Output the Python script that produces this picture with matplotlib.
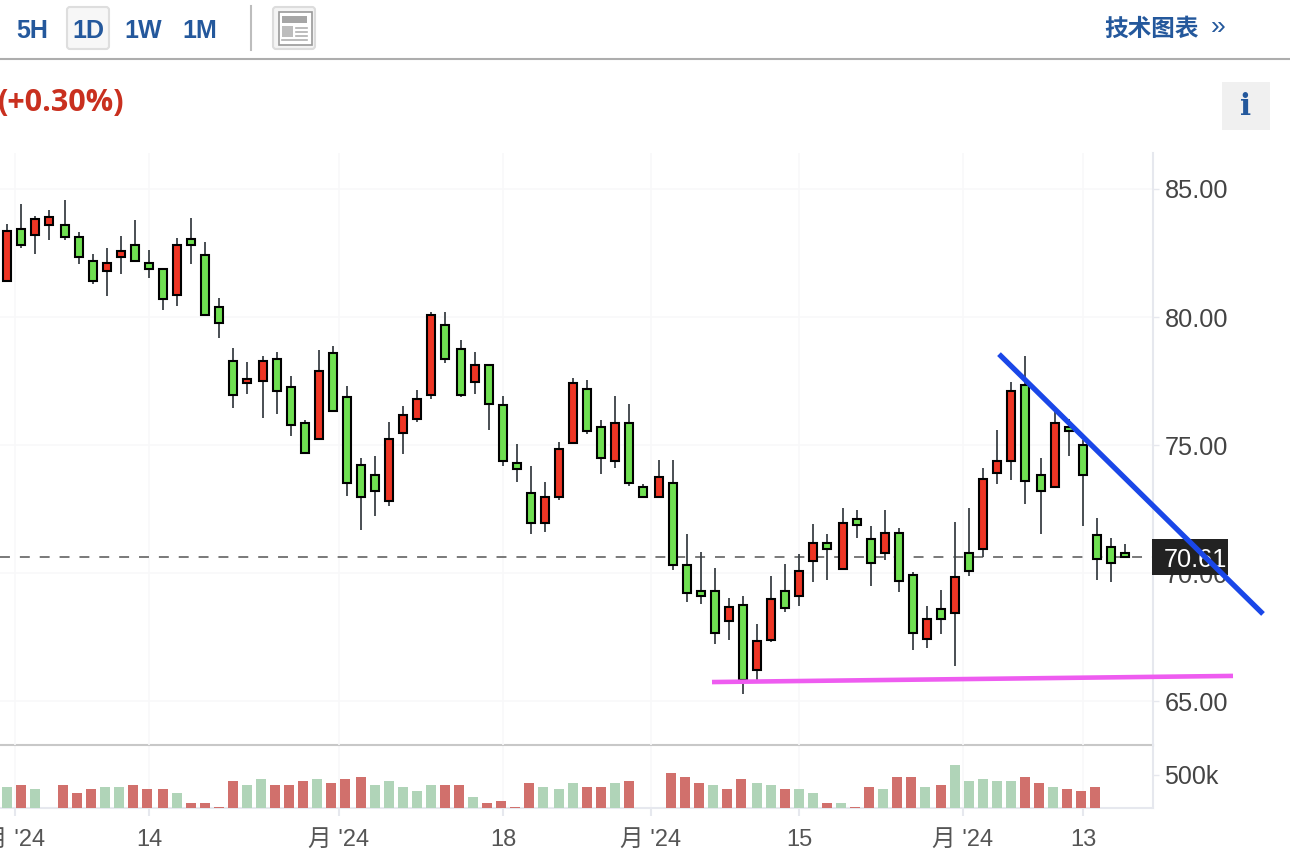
import numpy as np
import matplotlib
matplotlib.use('Agg')
import matplotlib.pyplot as plt
from matplotlib.patches import Rectangle, FancyBboxPatch

plt.rcParams['font.family'] = ['Liberation Sans', 'Noto Sans CJK SC', 'DejaVu Sans']

# ---------------- data ----------------
open_px = [81.39, 83.45, 83.19, 83.58, 83.61, 83.14, 82.20, 81.78, 82.33, 82.82, 82.12, 81.89, 80.85, 83.06, 82.43,
           80.40, 78.29, 77.41, 77.49, 78.37, 77.28, 75.87, 75.22, 78.61, 76.89, 74.23, 73.84, 72.80, 75.45, 76.00,
           76.94, 79.70, 78.76, 77.48, 78.13, 76.57, 74.31, 73.13, 71.94, 72.95, 75.06, 77.20, 75.71, 74.36, 75.87,
           73.37, 72.95, 73.52, 70.32, 69.31, 69.31, 68.11, 68.76, 66.23, 67.40, 69.31, 69.12, 70.45, 71.18, 70.14,
           72.12, 71.34, 70.77, 71.57, 69.93, 67.41, 68.61, 68.42, 70.79, 70.92, 73.89, 74.36, 77.36, 73.84, 73.37,
           75.71, 75.01, 71.50, 71.03, 70.79]
close_px = [83.37, 82.80, 83.84, 83.92, 83.11, 82.33, 81.39, 82.12, 82.59, 82.17, 81.86, 80.69, 82.82, 82.80, 80.06,
            79.75, 76.94, 77.59, 78.29, 77.10, 75.77, 74.67, 77.90, 76.31, 73.50, 72.95, 73.19, 75.25, 76.18, 76.81,
            80.09, 78.34, 76.94, 78.13, 76.62, 74.36, 74.05, 71.94, 72.98, 74.85, 77.43, 75.53, 74.51, 75.87, 73.50,
            72.95, 73.76, 70.30, 69.20, 69.12, 67.64, 68.68, 65.82, 67.35, 69.00, 68.65, 70.09, 71.18, 70.92, 71.96,
            71.86, 70.40, 71.57, 69.67, 67.64, 68.21, 68.19, 69.86, 70.06, 73.68, 74.39, 77.12, 73.58, 73.19, 75.87,
            75.53, 73.81, 70.53, 70.40, 70.61]
high_px = [83.63, 84.41, 83.94, 84.18, 84.57, 83.32, 82.46, 82.69, 83.16, 83.79, 82.62, 81.89, 83.09, 83.87, 82.93,
           80.74, 78.79, 78.24, 78.48, 78.63, 77.69, 75.98, 78.71, 78.87, 77.30, 74.49, 74.57, 75.90, 76.52, 77.15,
           80.19, 80.19, 79.10, 78.63, 78.13, 76.91, 75.03, 74.18, 73.55, 75.11, 77.61, 77.53, 75.97, 76.91, 76.60,
           73.47, 74.41, 74.41, 71.52, 70.82, 70.19, 69.02, 69.10, 68.00, 69.88, 70.35, 70.74, 71.91, 71.52, 72.53,
           72.46, 71.83, 72.46, 71.76, 70.04, 68.71, 69.33, 71.99, 72.54, 74.10, 75.58, 77.46, 78.48, 74.49, 76.34,
           76.03, 75.19, 72.15, 71.37, 71.13]
low_px = [81.39, 82.69, 82.46, 83.01, 83.01, 82.07, 81.29, 80.82, 81.68, 82.17, 81.52, 80.27, 80.43, 82.07, 80.06,
          79.18, 76.44, 76.99, 76.05, 76.21, 75.35, 74.67, 75.22, 76.31, 73.01, 71.68, 72.23, 72.62, 74.65, 75.90,
          76.78, 78.19, 76.86, 76.99, 75.58, 74.18, 73.55, 71.52, 71.60, 72.85, 75.06, 75.43, 73.86, 74.10, 73.39,
          72.95, 72.95, 70.11, 68.86, 68.78, 67.22, 67.38, 65.27, 65.82, 67.30, 68.47, 68.71, 69.64, 69.72, 70.14,
          71.37, 69.49, 70.51, 69.26, 66.99, 67.07, 67.62, 66.37, 69.88, 70.61, 73.48, 73.63, 72.69, 71.52, 73.37,
          74.57, 71.83, 69.72, 69.65, 70.61]
candle_sessions = [4, 14, 14, 14, 13, 14, 7]

# volume in thousands, 'r' / 'g' is the bar colour
volume_k = [323, 354, 293, 0, 354, 232, 293, 323, 323, 354, 293,
            293, 232, 81, 81, 20, 414, 354, 444, 354, 354, 414, 444, 384, 444,
            475, 354, 414, 323, 263, 354, 354, 354, 172, 81, 111, 20, 384, 323,
            293, 384, 323, 323, 384, 414, 0, 0, 535, 475, 384, 354, 293, 444,
            384, 354, 293, 293, 232, 81, 81, 20, 323, 293, 475, 475, 323,
            354, 656, 414, 444, 414, 414, 475, 384, 323, 293, 263, 323]
volume_dir = list('grgrrrrggrr' + 'rgrrrrggrrrgrr' + 'rgggggrrgrrrrg' + 'ggrrgrrrrrrgrr'
                  + 'ggrggrgrrgrrg' + 'rgggggrrgrrr')
volume_sessions = [11, 14, 14, 14, 13, 12]

y_ticks = [65, 70, 75, 80, 85]
y_tick_labels = ['65.00', '70.00', '75.00', '80.00', '85.00']
x_ticks = [15, 149, 339, 503, 651, 799, 963, 1083]
x_tick_labels = ["月 '24", '14', "月 '24", '18', "月 '24", '15', "月 '24", '13']
last_price = 70.61

# hand drawn trend lines, x on the chart's own scale
blue_x, blue_y = [999, 1263], [78.55, 68.40]
pink_x, pink_y = [712, 1233], [65.74, 65.98]

# ---------------- layout ----------------
W, H = 1290, 856
PLOT_R = 1153
GRID = '#f8f8f9'
AXIS = '#e6e8ee'
BLUE = '#24589c'


def px_axes(fig, left, top, right, bottom):
    return fig.add_axes([left / W, 1 - bottom / H, (right - left) / W, (bottom - top) / H])


def session_x(sessions, first=7, step=14, gap=2):
    # ordinal axis, sessions are parted by a small extra gap
    xs = []
    pos = first
    for n in sessions:
        for i in range(n):
            xs.append(pos)
            pos += step
        pos += gap
    return np.array(xs)


def draw_candles(ax):
    x = session_x(candle_sessions)
    o, c = np.array(open_px), np.array(close_px)
    up = c > o
    ax.vlines(x, low_px, high_px, color='#3a4045', lw=1.3, zorder=3)
    ax.bar(x, np.abs(c - o), bottom=np.minimum(o, c), width=8.4,
           color=np.where(up, '#ee3524', '#6fe051'), edgecolor='black', linewidth=1.5, zorder=4)


def draw_volume(ax):
    x = session_x(volume_sessions)
    colors = ['#d1706c' if d == 'r' else '#b0d4b8' for d in volume_dir]
    ax.bar(x, volume_k, width=10, color=colors, linewidth=0, zorder=3)


def round_box(ax, x0, y0, x1, y1, face, edge):
    ax.add_patch(FancyBboxPatch((x0 + 3, y0 + 3), x1 - x0 - 6, y1 - y0 - 6, boxstyle='round,pad=3',
                                fc=face, ec=edge, lw=1.5))


def draw_chrome(ax):
    for label, x in zip(['5H', '1D', '1W', '1M'], [32, 88, 143, 200]):
        if label == '1D':
            round_box(ax, 67, 7, 109, 49, '#f7f7f7', '#dedede')
        ax.text(x, 28, label, color=BLUE, fontsize=18, fontweight='bold', ha='center', va='center_baseline')
    ax.plot([251, 251], [6, 50], color='#bdbdbd', lw=1.5)

    # news icon button
    round_box(ax, 273, 7, 315, 49, '#f4f4f4', '#dcdcdc')
    ax.add_patch(Rectangle((279, 12), 33, 33, fc='white', ec='#999999', lw=1.2))
    ax.add_patch(Rectangle((282, 16), 25, 7, fc='#a6a6a6', ec='none'))
    ax.add_patch(Rectangle((282, 26), 11, 11, fc='#bdbdbd', ec='none'))
    for y in [27.5, 31.5, 35.5]:
        ax.plot([296, 307], [y, y], color='#b0b0b0', lw=1.2)
    ax.plot([282, 307], [40, 40], color='#b0b0b0', lw=1.2)

    ax.text(1152, 29, '技术图表', color=BLUE, fontsize=17, fontweight='bold', ha='center', va='center')
    ax.text(1218, 27, '»', color=BLUE, fontsize=19, fontweight='light', ha='center', va='center')
    ax.plot([0, W], [59, 59], color='#adadad', lw=1.5)

    ax.text(-2, 103, '(+0.30%)', color='#c9301f', fontsize=22, fontweight='bold', family='Open Sans',
            ha='left', va='center')
    ax.add_patch(Rectangle((1222, 82), 48, 48, fc='#f0f0f0', ec='none'))
    ax.text(1246, 106, 'i', color=BLUE, fontsize=21, fontweight='bold', family='DejaVu Serif',
            ha='center', va='center')


fig = plt.figure(figsize=(W / 100, H / 100), dpi=100)

# main price panel
ax = px_axes(fig, 0, 153, PLOT_R, 745)
ax.set_xlim(0, PLOT_R)
ax.set_ylim(85 - (745 - 189) / 25.6, 85 + (189 - 153) / 25.6)
ax.set_yticks(y_ticks, y_tick_labels)
ax.set_xticks(x_ticks, [])
ax.yaxis.tick_right()
ax.tick_params(axis='y', length=4.3, width=1, color=AXIS, pad=4, labelsize=18.3, labelcolor='#444444')
ax.tick_params(axis='x', length=0)
for lab in ax.get_yticklabels():
    lab.set_va('center_baseline')
ax.grid(True, color=GRID, lw=1.2, zorder=0)
ax.set_axisbelow(True)
for name in ['top', 'left', 'bottom']:
    ax.spines[name].set_visible(False)
ax.spines['right'].set_color(AXIS)
ax.spines['right'].set_linewidth(1.5)

ax.plot([0, PLOT_R], [last_price, last_price], color='#555555', lw=1.1, dashes=(6.5, 6.5), zorder=2)
draw_candles(ax)

# last price flag sits over the 70.00 tick label
ax.add_patch(Rectangle((PLOT_R - 1, last_price - 18 / 25.6), 76, 36 / 25.6, fc='#222222', ec='none',
                       clip_on=False, zorder=5))
ax.text(PLOT_R + 42, last_price, '70.61', color='white', fontsize=18.3, ha='center', va='center_baseline',
        clip_on=False, zorder=6)

ax.plot(blue_x, blue_y, color='#1a47e8', lw=3.8, solid_capstyle='butt', clip_on=False, zorder=7)
ax.plot(pink_x, pink_y, color='#ee5cf0', lw=3.3, solid_capstyle='butt', clip_on=False, zorder=7)

# volume panel
vax = px_axes(fig, 0, 745, PLOT_R, 808)
vax.set_xlim(0, PLOT_R)
vax.set_ylim(0, 500 * 63 / 33)
vax.set_yticks([500], ['500k'])
vax.set_xticks(x_ticks, x_tick_labels)
vax.yaxis.tick_right()
vax.tick_params(axis='y', length=4.3, width=1, color=AXIS, pad=4, labelsize=18, labelcolor='#444444')
vax.tick_params(axis='x', length=6, width=1.5, color=AXIS, pad=9, labelsize=17, labelcolor='#555555')
vax.grid(axis='x', color=GRID, lw=1.2)
vax.set_axisbelow(True)
vax.spines['left'].set_visible(False)
vax.spines['top'].set_color('#c8c8c8')
vax.spines['top'].set_linewidth(1.5)
for name in ['right', 'bottom']:
    vax.spines[name].set_color(AXIS)
    vax.spines[name].set_linewidth(1.5)
draw_volume(vax)

# page chrome sits behind both panels, in pixels
cax = fig.add_axes([0, 0, 1, 1], zorder=-1)
cax.set_xlim(0, W)
cax.set_ylim(H, 0)
cax.axis('off')
draw_chrome(cax)

# price panel last so the trend lines stay on top
ax.set_zorder(3)
ax.patch.set_alpha(0)
vax.set_zorder(2)
vax.patch.set_alpha(0)

fig.savefig('out.png', dpi=100)
